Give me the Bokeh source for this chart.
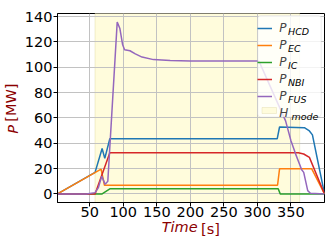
from bokeh.plotting import figure
from bokeh.models import (Range1d, FixedTicker, Label, Legend, LegendItem,
                          LinearAxis, BoxAnnotation)
from bokeh.embed import file_html
from bokeh.resources import INLINE

# ---------------- data ----------------
hcd_t = [2, 58, 68.5, 72.5, 80, 329.5, 333, 370, 377.5, 382, 400]
hcd_v = [0, 17, 35.8, 28, 43.5, 43.5, 52.8, 52.3, 49.7, 46.6, 0]

ec_t = [2, 67, 72, 330, 333, 381, 400]
ec_v = [0, 19.6, 6.8, 6.8, 19.8, 19.8, 0]

ic_t = [2, 68.5, 80, 331, 334, 400]
ic_v = [0, 0, 4, 4, 0, 0]

nbi_t = [2, 58, 80, 361, 369, 377.5, 400]
nbi_v = [0, 0, 32.5, 32.5, 31.5, 28.8, 0]

fus_t = [2, 45, 58, 63, 68, 73, 77, 91, 95, 99, 102, 110, 118, 128, 145,
         170, 200, 300, 303, 342, 350, 357, 366, 369, 375, 379, 400]
fus_v = [0, 0, 1, 5, 14, 7.5, 10, 135.6, 130.5, 118, 113.8, 113, 110.5,
         108, 106, 105.3, 105, 105, 104, 57.6, 42, 31.4, 19, 17, 2.6, 0.5, 0]

hmode_start = [58]
hmode_end = [363]

x_ticks = [50, 100, 150, 200, 250, 300, 350]
y_ticks = [0, 20, 40, 60, 80, 100, 120, 140]

series_subs = ["HCD", "EC", "IC", "NBI", "FUS"]
colors = ["#1f77b4", "#ff7f0e", "#2ca02c", "#d62728", "#9467bd"]

# axis title pieces: (text, position along the axis, italic?)
x_title = [("Time", 184, True), ("[s]", 230, False)]
y_title = [("P", 51, True), ("[MW]", 72, False)]

FONT = "DejaVu Sans"
LABEL_RED = "#8b0000"
FS = "14.5px"
HMODE_FILL = "#fffcdc"
HMODE_EDGE = "#e2dca8"
SWATCH_EDGE = "#d4cd92"

p = figure(width=332, height=249, output_backend="svg", toolbar_location=None,
           x_range=Range1d(2, 400), y_range=Range1d(-6.8, 142.4),
           min_border_left=57, min_border_right=8, min_border_top=13,
           min_border_bottom=47)

p.outline_line_color = "black"
p.outline_line_width = 1
p.background_fill_color = "white"

# H-mode shading (below grid)
r_h = p.quad(left=hmode_start, right=hmode_end, bottom=[-1000], top=[1000],
             fill_color=HMODE_FILL, fill_alpha=1.0, line_color=HMODE_EDGE,
             line_alpha=0.5, line_width=1, level="image")

renderers = []
for t, v, c in zip([hcd_t, ec_t, ic_t, nbi_t, fus_t],
                   [hcd_v, ec_v, ic_v, nbi_v, fus_v], colors):
    renderers.append(p.line(t, v, line_color=c, line_width=1.5))

xax = p.xaxis[0]
yax = p.yaxis[0]
for ax in (xax, yax):
    ax.major_label_text_font = FONT
    ax.major_label_text_font_size = FS
    ax.major_label_text_color = "black"
    ax.major_tick_in = 0
    ax.major_tick_out = 4
    ax.minor_tick_in = 0
    ax.minor_tick_out = 0
    ax.axis_line_color = "black"
    ax.major_tick_line_color = "black"
xax.major_label_standoff = 0
yax.major_label_standoff = 1
xax.ticker = FixedTicker(ticks=x_ticks)
yax.ticker = FixedTicker(ticks=y_ticks)

p.xgrid.ticker = FixedTicker(ticks=x_ticks)
p.ygrid.ticker = FixedTicker(ticks=y_ticks)
for g in (p.xgrid[0], p.ygrid[0]):
    g.grid_line_color = "#c2c2c2"
    g.grid_line_width = 1


def title_axis(text, pos, italic, standoff, vertical):
    ax = LinearAxis(ticker=FixedTicker(ticks=[pos]),
                    major_label_overrides={pos: text},
                    axis_line_color=None, major_tick_line_color=None,
                    minor_tick_line_color=None, major_tick_in=0,
                    major_tick_out=0, minor_tick_in=0, minor_tick_out=0,
                    major_label_text_font=FONT, major_label_text_font_size=FS,
                    major_label_text_color=LABEL_RED,
                    major_label_text_font_style="italic" if italic else "normal",
                    major_label_standoff=standoff)
    if vertical:
        ax.major_label_orientation = "parallel"
    return ax


# x title pieces, in the row under the tick labels
p.add_layout(title_axis(x_title[0][0], x_title[0][1], x_title[0][2], -1, False), "below")
p.add_layout(title_axis(x_title[1][0], x_title[1][1], x_title[1][2], -17, False), "below")
# y title pieces, in the column left of the tick labels
p.add_layout(title_axis(y_title[0][0], y_title[0][1], y_title[0][2], 0, True), "left")
p.add_layout(title_axis(y_title[1][0], y_title[1][1], y_title[1][2], -17, True), "left")

# legend frame (drawn as a box so that the subscripts sit on top of it)
p.add_layout(BoxAnnotation(left=257.3, right=320.7, top=15, bottom=116.5,
                           left_units="canvas", right_units="canvas",
                           top_units="canvas", bottom_units="canvas",
                           fill_color="white", fill_alpha=0.8,
                           line_color="#cccccc", line_width=1,
                           border_radius=3, level="annotation"))

# legend swatch for the H-mode band: a thin bordered box
p.add_layout(BoxAnnotation(left=261.5, right=276, top=107, bottom=113,
                           left_units="canvas", right_units="canvas",
                           top_units="canvas", bottom_units="canvas",
                           fill_color=HMODE_FILL, fill_alpha=1.0,
                           line_color=SWATCH_EDGE, line_width=1,
                           level="overlay"))
sw_fill = p.line([], [], line_color=HMODE_FILL, line_width=5)

items = [LegendItem(label="P", renderers=[r]) for r in renderers]
items.append(LegendItem(label="H", renderers=[sw_fill]))
legend = Legend(items=items, location=(200.3, 82), margin=0, padding=3,
                spacing=3, glyph_width=15, glyph_height=14, label_height=14,
                label_width=35, label_standoff=7,
                label_text_font=FONT, label_text_font_size="12px",
                label_text_font_style="italic",
                background_fill_alpha=0, border_line_color=None)
p.add_layout(legend)

for i, sub in enumerate(series_subs + ["mode"]):
    row_center = 25 + 17 * i  # image px
    base = row_center + 5.7
    xs = 230.5 if sub != "mode" else 234
    p.add_layout(Label(x=xs, y=202 - base, x_units="screen", y_units="screen",
                       text=sub, text_font=FONT, text_font_size="9.5px",
                       text_font_style="italic", text_align="left",
                       text_baseline="alphabetic", text_color="black",
                       level="overlay"))

open("out.html", "w").write(file_html(p, INLINE))
